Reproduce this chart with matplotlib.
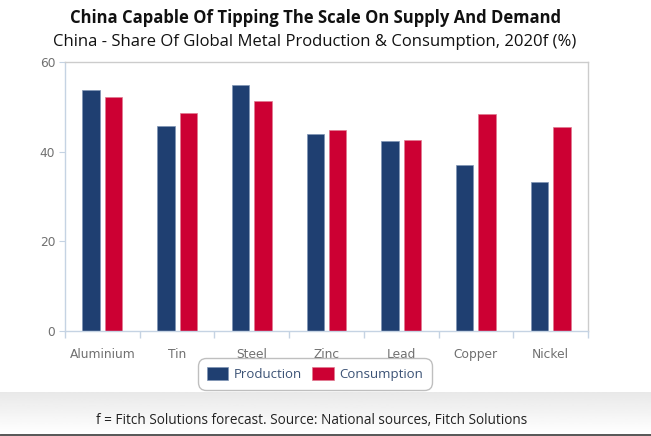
import numpy as np
import matplotlib
matplotlib.use("Agg")
from matplotlib import pyplot as plt

metals = ["Aluminium", "Tin", "Steel", "Zinc", "Lead", "Copper", "Nickel"]
production = [53.7, 45.8, 54.8, 43.9, 42.3, 37.0, 33.3]
consumption = [52.1, 48.7, 51.3, 44.9, 42.6, 48.4, 45.5]
yticks = [0, 20, 40, 60]

navy = "#1f3f71"
red = "#cc0033"
axis_col = "#c5d3e3"

fig = plt.figure(figsize=(6.51, 4.36), dpi=100)

# soft grey gradient behind the footnote, dark strip at the very bottom
bg = fig.add_axes([0, 2 / 436, 1, 42 / 436])
grad = np.linspace(0.91, 1.0, 50).reshape(-1, 1)
bg.imshow(grad, aspect="auto", cmap="gray", vmin=0, vmax=1, extent=[0, 1, 0, 1])
bg.axis("off")
strip = fig.add_axes([0, 0, 1, 2 / 436])
strip.axis("off")
strip.add_patch(plt.Rectangle((0, 0), 1, 1, color="#5a5a5a", transform=strip.transAxes))

ax = fig.add_axes([65 / 651, 1 - 331 / 436, (588 - 65) / 651, (331 - 62) / 436])

x = np.arange(len(metals))
w = 0.233
off = 0.15
ax.bar(x - off, production, w, color=navy, edgecolor="#7f95b5", linewidth=0.5, label="Production")
ax.bar(x + off, consumption, w, color=red, edgecolor="#e07a90", linewidth=0.5, label="Consumption")

ax.set_xlim(-0.5, len(metals) - 0.5)
ax.set_ylim(0, 60)
ax.set_yticks(yticks)
ax.set_xticks(x)
ax.set_xticklabels(metals)
ax.set_xticks(np.arange(len(metals) + 1) - 0.5, minor=True)
ax.tick_params(axis="x", which="major", length=0, pad=12, labelsize=8.8, labelcolor="#707070")
ax.tick_params(axis="x", which="minor", length=5, color=axis_col, width=1)
ax.tick_params(axis="y", length=4, color=axis_col, labelsize=8.8, labelcolor="#707070", pad=3)

for s in ["top", "right"]:
    ax.spines[s].set_color("#cccccc")
    ax.spines[s].set_linewidth(1)
for s in ["left", "bottom"]:
    ax.spines[s].set_color(axis_col)
    ax.spines[s].set_linewidth(1)

fig.text(315 / 651, 1 - 18 / 436, "China Capable Of Tipping The Scale On Supply And Demand",
         ha="center", va="center", fontsize=12, fontweight="bold", family="Open Sans", color="#111111")
fig.text(315 / 651, 1 - 42 / 436, "China - Share Of Global Metal Production & Consumption, 2020f (%)",
         ha="center", va="center", fontsize=12, family="Open Sans", color="#111111")

leg = fig.legend(loc="center", bbox_to_anchor=(315 / 651, 1 - 374 / 436), ncol=2,
                 frameon=True, handlelength=1.6, handleheight=1.2,
                 handletextpad=0.4, columnspacing=0.8, borderpad=0.5,
                 prop={"family": "Open Sans", "size": 9.5})
leg.get_frame().set_edgecolor("#b0b0b0")
leg.get_frame().set_linewidth(1)
leg.get_frame().set_boxstyle("round,pad=0.2,rounding_size=0.6")
for t in leg.get_texts():
    t.set_color("#3b5275")

fig.text(312 / 651, 1 - 420 / 436, "f = Fitch Solutions forecast. Source: National sources, Fitch Solutions",
         ha="center", va="center", fontsize=9.8, family="Open Sans", color="#222222")

fig.savefig("out.png", dpi=100)
